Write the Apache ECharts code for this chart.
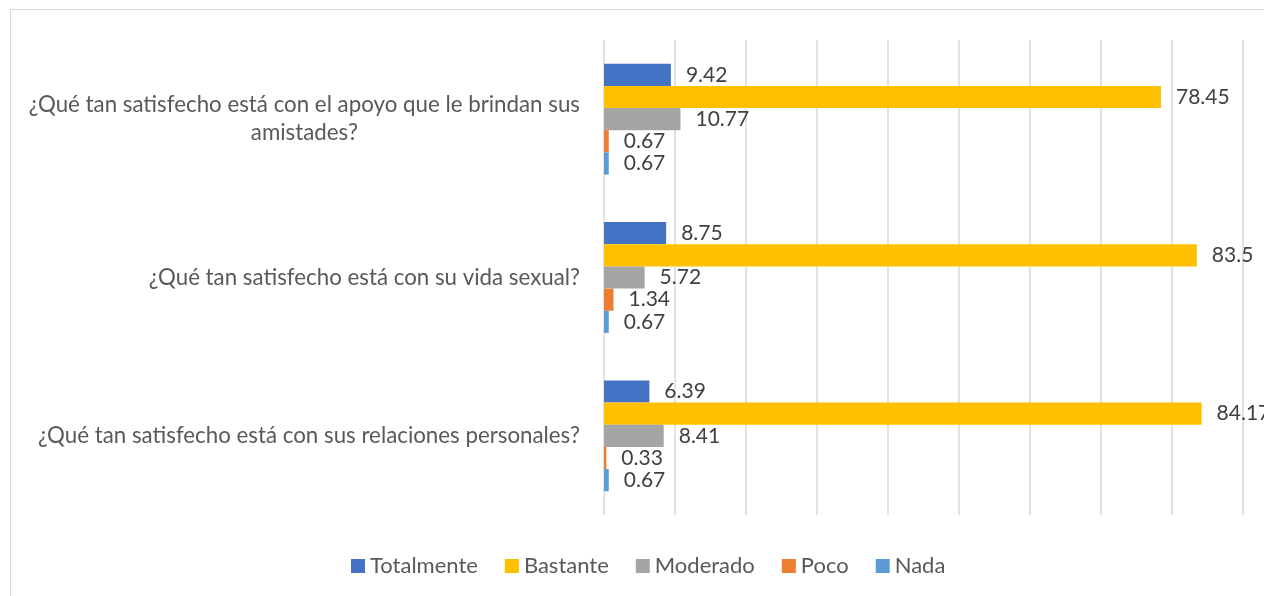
<!DOCTYPE html>
<html>
<head>
<meta charset="utf-8">
<script src="https://cdn.jsdelivr.net/npm/echarts@6/dist/echarts.min.js"></script>
<style>
  html, body { margin: 0; padding: 0; background: #fff; overflow: hidden; }
  #frame { position: absolute; left: 10px; top: 9px; width: 1300px; height: 640px; border: 1px solid #d9d9d9; }
  #main { position: absolute; left: 0; top: 0; width: 1264px; height: 596px; }
</style>
</head>
<body>
<div id="frame"></div>
<div id="main"></div>
<script>
// preguntas (de arriba hacia abajo)
var categories = [
    '¿Qué tan satisfecho está con el apoyo que le brindan sus amistades?',
    '¿Qué tan satisfecho está con su vida sexual?',
    '¿Qué tan satisfecho está con sus relaciones personales?'
];
var seriesNames = ['Totalmente', 'Bastante', 'Moderado', 'Poco', 'Nada'];
var totalmente = [9.42, 8.75, 6.39];
var bastante = [78.45, 83.5, 84.17];
var moderado = [10.77, 5.72, 8.41];
var poco = [0.67, 1.34, 0.33];
var nada = [0.67, 0.67, 0.67];
var colors = ['#4472C4', '#FFC000', '#A5A5A5', '#ED7D31', '#5B9BD5'];

var FONT = 'Lato';

// parte el texto largo en dos lineas
function wrapLabel(str, max) {
    if (str.length <= max) return '{c|' + str + '}';
    var cut = str.lastIndexOf(' ', max);
    return '{c|' + str.substr(0, cut) + '}\n{c|' + str.substr(cut + 1) + '}';
}

var myChart = echarts.init(document.getElementById('main'));
var allData = [totalmente, bastante, moderado, poco, nada];
var series = [];
seriesNames.forEach(function (name, i) {
    series.push({
        name: name,
        type: 'bar',
        data: allData[i],
        barGap: '0%',
        barCategoryGap: '30%',
        itemStyle: { color: colors[i] },
        label: {
            show: true,
            position: 'right',
            distance: 15,
            color: '#404040',
            fontSize: 21,
            fontFamily: FONT
        }
    });
});

var option = {
    animation: false,
    grid: { left: 604, right: 21, top: 40, bottom: 81 },
    legend: {
        bottom: 14,
        left: 346,
        itemWidth: 14,
        itemHeight: 14,
        itemGap: 27,
        icon: 'rect',
        textStyle: { color: '#595959', fontSize: 22, fontFamily: FONT },
        data: seriesNames
    },
    xAxis: {
        type: 'value',
        min: 0,
        max: 90,
        interval: 10,
        axisLabel: { show: false },
        axisLine: { show: false },
        axisTick: { show: false },
        splitLine: { lineStyle: { color: '#d9d9d9', width: 1.5 } }
    },
    yAxis: {
        type: 'category',
        inverse: true,
        data: categories,
        axisLine: { show: false },
        axisTick: { show: false },
        axisLabel: {
            margin: 24,
            color: '#595959',
            fontSize: 22.3,
            fontFamily: FONT,
            lineHeight: 28,
            formatter: function (v) { return wrapLabel(v, 58); },
            rich: {
                c: { align: 'center', color: '#595959', fontSize: 22.3, fontFamily: FONT, lineHeight: 28 }
            }
        }
    },
    series: series
};
myChart.setOption(option);
</script>
</body>
</html>
